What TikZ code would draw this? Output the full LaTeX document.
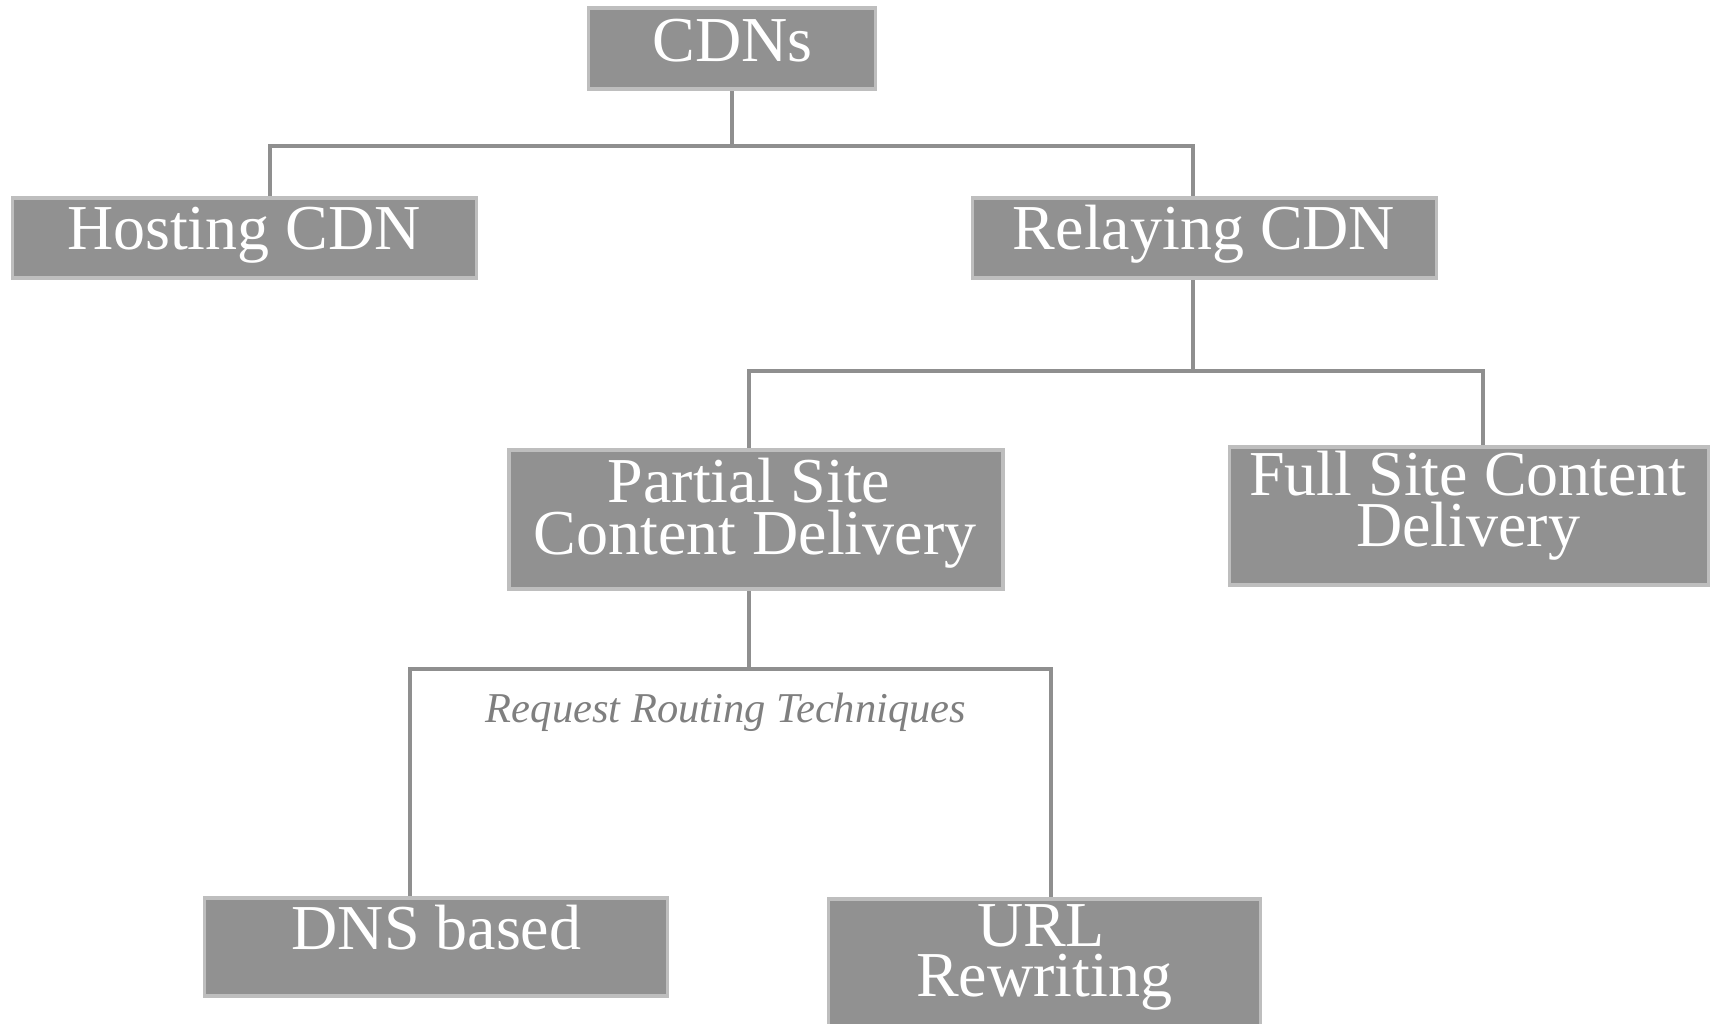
\documentclass[tikz,border=0pt]{standalone}
\usepackage{fontspec}
\setmainfont{Liberation Serif}
\usetikzlibrary{backgrounds}
\definecolor{boxfill}{HTML}{919191}
\definecolor{boxline}{HTML}{BEBEBE}
\definecolor{connline}{HTML}{8F8F8F}
\definecolor{labelgray}{HTML}{7F7F7F}
\begin{document}
\begin{tikzpicture}[x=1pt,y=-1pt,
  box/.style={draw=boxline, fill=boxfill, line width=3.5pt, inner sep=0pt, anchor=north west, rectangle},
  conn/.style={draw=connline, line width=4pt, line join=miter},
  boxtext/.style={text=white, font=\fontsize{64}{64}\selectfont, anchor=base, inner sep=0pt},
  rrlabel/.style={text=labelgray, font=\fontsize{42.5}{42.5}\selectfont\itshape, anchor=base, inner sep=0pt}
  ]
\useasboundingbox (0,0) rectangle (1712,1023);

% boxes
\node[box, minimum width=287pt, minimum height=81pt]  (cdns)     at (586.5,6) {};
\node[box, minimum width=464pt, minimum height=80pt]  (hosting)  at (10.5,196) {};
\node[box, minimum width=464pt, minimum height=80pt]  (relaying) at (970.5,196) {};
\node[box, minimum width=494pt, minimum height=139pt] (partial)  at (507,448) {};
\node[box, minimum width=479pt, minimum height=138pt] (full)     at (1227.5,445) {};
\node[box, minimum width=463pt, minimum height=98pt]  (dns)      at (202.5,896) {};
\node[box, minimum width=432pt, minimum height=150pt] (url)      at (826.5,897) {};

% texts
\node[boxtext] (cdnsT)     at (732.5,61)   {CDNs};
\node[boxtext] (hostingT)  at (244,249)    {Hosting CDN};
\node[boxtext] (relayingT) at (1204,249)   {Relaying CDN};
\node[boxtext] (partialT1) at (749,502)    {Partial Site};
\node[boxtext] (partialT2) at (755,554)    {Content Delivery};
\node[boxtext] (fullT1)    at (1468,495)   {Full Site Content};
\node[boxtext] (fullT2)    at (1468,546)   {Delivery};
\node[boxtext] (dnsT)      at (436.5,949)  {DNS based};
\node[boxtext] (urlT1)     at (1041,946)   {URL};
\node[boxtext] (urlT2)     at (1044,996)   {Rewriting};
\node[rrlabel] (rrt)       at (726,722)    {Request Routing Techniques};

% connectors
\begin{scope}[on background layer]
  \draw[conn] (cdns.south) -- ++(0,55) coordinate (j1);
  \draw[conn] ([xshift=26pt]hosting.north) |- (j1) -| ([xshift=-11pt]relaying.north);
  \draw[conn] ([xshift=-11pt]relaying.south) -- ++(0,91) coordinate (j2);
  \draw[conn] ([xshift=-6.5pt]partial.north) |- (j2) -| ([xshift=14.5pt]full.north);
  \draw[conn] ([xshift=-6.5pt]partial.south) -- ++(0,78) coordinate (j3);
  \draw[conn] ([xshift=-26pt]dns.north) |- (j3) -| ([xshift=7pt]url.north);
\end{scope}
\end{tikzpicture}
\end{document}
